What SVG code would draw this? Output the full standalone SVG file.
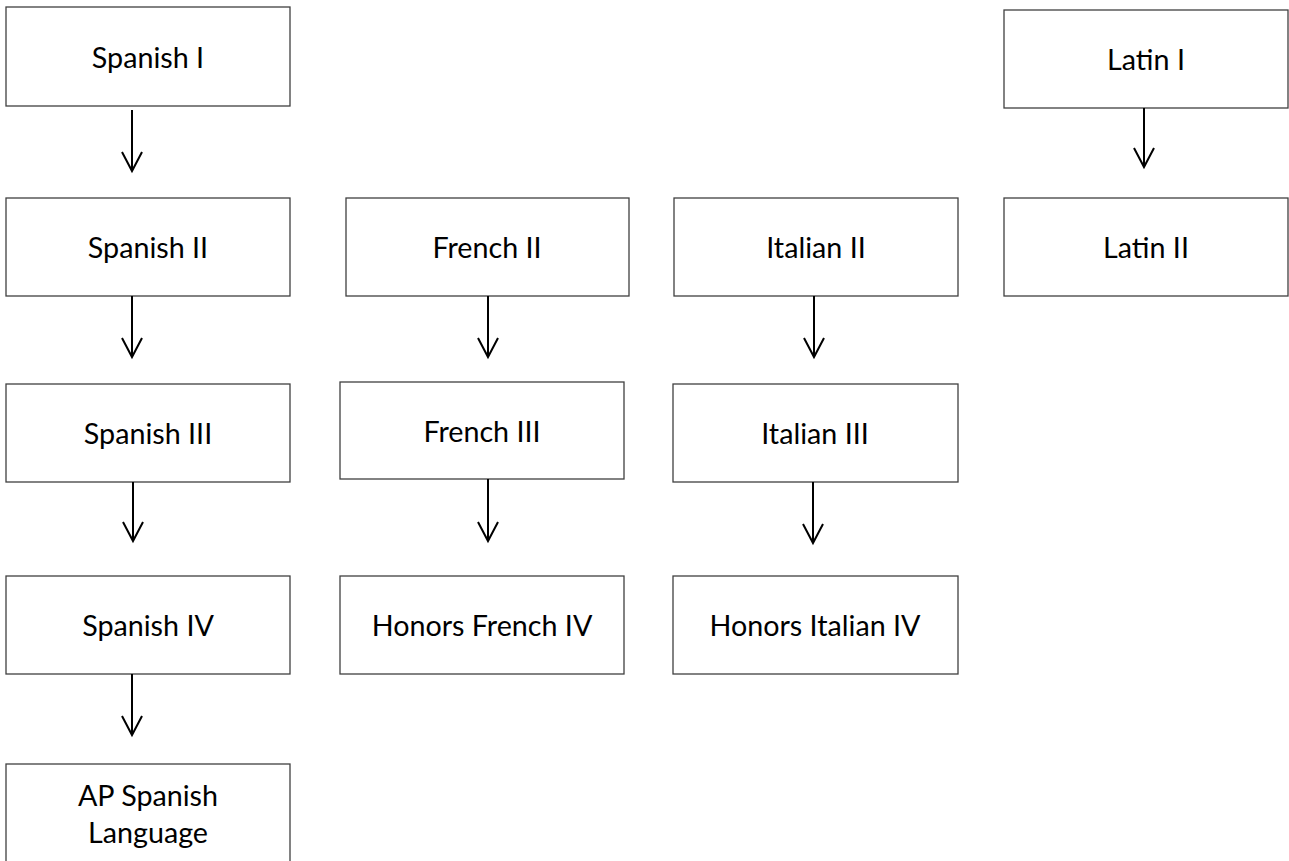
<svg xmlns="http://www.w3.org/2000/svg" width="1289" height="861" viewBox="0 0 1289 861">
<defs>
<style>
.box{fill:#fff;stroke:#404040;stroke-width:1.3}
.lbl{font-family:Lato,"Open Sans","Liberation Sans",sans-serif;font-size:28.7px;fill:#000;text-anchor:middle}
.conn{stroke:#000;stroke-width:2;fill:none;marker-end:url(#vh)}
</style>
<marker id="vh" markerUnits="userSpaceOnUse" orient="auto" refX="0" refY="0" markerWidth="40" markerHeight="40" overflow="visible">
<path d="M-19,-10 L0,0 L-19,10" fill="none" stroke="#000" stroke-width="2"/>
</marker>
</defs>
<rect width="1289" height="861" fill="#fff"/>
<g id="spanish1"><rect class="box" x="6" y="7" width="284" height="99"/><text class="lbl" x="148" y="68">Spanish I</text></g>
<g id="spanish2"><rect class="box" x="6" y="198" width="284" height="98"/><text class="lbl" x="148" y="258">Spanish II</text></g>
<g id="spanish3"><rect class="box" x="6" y="384" width="284" height="98"/><text class="lbl" x="148" y="444">Spanish III</text></g>
<g id="spanish4"><rect class="box" x="6" y="576" width="284" height="98"/><text class="lbl" x="148" y="636">Spanish IV</text></g>
<g id="apspanish"><rect class="box" x="6" y="764" width="284" height="110"/><text class="lbl" x="148" y="806">AP Spanish</text><text class="lbl" x="148" y="843">Language</text></g>
<g id="french2"><rect class="box" x="346" y="198" width="283" height="98"/><text class="lbl" x="487" y="258">French II</text></g>
<g id="french3"><rect class="box" x="340" y="382" width="284" height="97"/><text class="lbl" x="482" y="442">French III</text></g>
<g id="french4"><rect class="box" x="340" y="576" width="284" height="98"/><text class="lbl" x="482" y="636">Honors French IV</text></g>
<g id="italian2"><rect class="box" x="674" y="198" width="284" height="98"/><text class="lbl" x="816" y="258">Italian II</text></g>
<g id="italian3"><rect class="box" x="673" y="384" width="285" height="98"/><text class="lbl" x="815" y="444">Italian III</text></g>
<g id="italian4"><rect class="box" x="673" y="576" width="285" height="98"/><text class="lbl" x="815" y="636">Honors Italian IV</text></g>
<g id="latin1"><rect class="box" x="1004" y="10" width="284" height="98"/><text class="lbl" x="1146" y="70">Latin I</text></g>
<g id="latin2"><rect class="box" x="1004" y="198" width="284" height="98"/><text class="lbl" x="1146" y="258">Latin II</text></g>
<g id="connectors">
<path class="conn" d="M132,110 V171"/>
<path class="conn" d="M132,296 V357"/>
<path class="conn" d="M133,482 V541"/>
<path class="conn" d="M132,674 V735"/>
<path class="conn" d="M488,296 V357"/>
<path class="conn" d="M488,479 V541"/>
<path class="conn" d="M814,296 V357"/>
<path class="conn" d="M813,482 V543"/>
<path class="conn" d="M1144,108 V167"/>
</g>
</svg>
